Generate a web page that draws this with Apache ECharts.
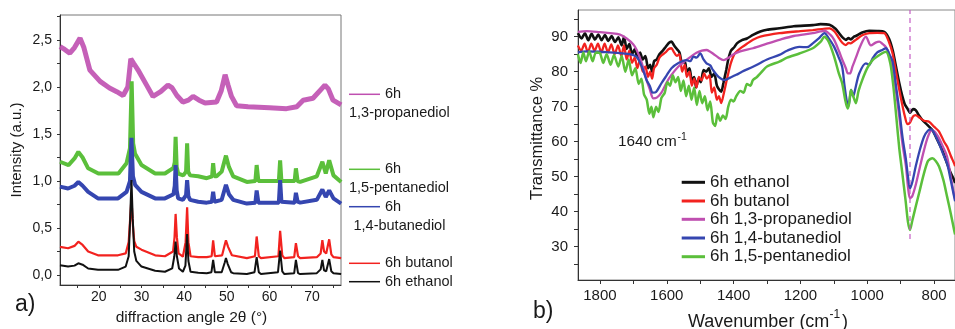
<!DOCTYPE html>
<html><head><meta charset="utf-8">
<script src="https://cdn.jsdelivr.net/npm/echarts@6/dist/echarts.min.js"></script>
<style>html,body{margin:0;padding:0;background:#fff}#c{width:955px;height:329px}</style>
</head><body><div id="c"></div>
<script>
// ---------- Panel a: XRD ----------
const xrdNames = ['6h ethanol','6h butanol','6h 1,3-propanediol','6h 1,4-butanediol','6h 1,5-pentanediol'];
const xrdTickLabels = [20,30,40,50,60,70];
const xrdYLabels = [0,0.5,1,1.5,2,2.5];
const xrdEthanol = [[10.9,0.105],[12.8,0.09],[14.3,0.1],[15.2,0.125],[16.2,0.11],[17.5,0.07],[19.8,0.055],[22,0.055],[24.5,0.055],[26.3,0.09],[27.0,0.2],[27.35,0.6],[27.65,1.01],[27.95,0.6],[28.3,0.25],[28.8,0.15],[30,0.09],[33.2,0.045],[35.5,0.035],[37.2,0.07],[37.7,0.2],[38.0,0.355],[38.3,0.2],[38.8,0.07],[39.7,0.035],[40.3,0.1],[40.7,0.435],[41.0,0.15],[41.5,0.035],[43.3,0.025],[45.3,0.02],[46.4,0.03],[46.8,0.16],[47.2,0.03],[48.8,0.03],[49.5,0.13],[49.8,0.18],[50.2,0.12],[51,0.03],[51.5,0.02],[54.7,0.01],[56.5,0.03],[57.0,0.19],[57.5,0.03],[58,0.01],[62.0,0.03],[62.5,0.26],[63.0,0.04],[63.5,0.01],[65.8,0.02],[66.2,0.16],[66.7,0.02],[67.2,0.01],[71.1,0.02],[72.0,0.06],[72.4,0.16],[72.8,0.05],[73.3,0.04],[74.0,0.17],[74.5,0.04],[75.0,0.02],[76.8,0.01]];
const xrdButanol = [[10.9,0.3],[12.8,0.285],[14.3,0.31],[15.2,0.355],[16.2,0.32],[17.5,0.25],[19.8,0.21],[24.5,0.21],[26.3,0.23],[27.0,0.35],[27.35,0.6],[27.65,0.82],[27.95,0.55],[28.3,0.36],[28.8,0.3],[30,0.27],[33.2,0.21],[35.5,0.2],[37.4,0.25],[37.75,0.4],[38.0,0.65],[38.3,0.4],[38.7,0.23],[39.7,0.195],[40.35,0.35],[40.7,0.72],[41.0,0.35],[41.5,0.2],[43.3,0.19],[45.3,0.19],[46.45,0.2],[46.8,0.37],[47.2,0.2],[48.9,0.21],[49.5,0.32],[49.8,0.37],[50.3,0.3],[51.2,0.21],[54.7,0.18],[56.6,0.2],[57.0,0.41],[57.5,0.2],[58,0.18],[62.1,0.2],[62.5,0.47],[63.0,0.21],[63.5,0.18],[65.8,0.19],[66.2,0.34],[66.7,0.2],[67.2,0.18],[71.1,0.19],[72.0,0.23],[72.4,0.37],[72.8,0.25],[73.3,0.23],[74.0,0.38],[74.5,0.22],[75.0,0.19],[76.8,0.18]];
const xrdPropanediol = [[10.9,2.43],[12,2.4],[13.2,2.36],[14.3,2.42],[15.6,2.52],[16.5,2.42],[17.9,2.18],[20.3,2.06],[22.5,1.99],[24.2,1.95],[25.7,1.91],[26.8,2.0],[27.5,2.3],[28.2,2.25],[29.2,2.18],[31.2,2.02],[32.7,1.9],[34.5,1.95],[36.2,2.02],[37.2,1.99],[38.3,1.91],[39.7,1.84],[41,1.86],[42.1,1.9],[43.5,1.86],[44.9,1.83],[47.6,1.84],[48.7,1.96],[49.6,2.13],[50.3,2.02],[51.1,1.9],[52.3,1.8],[55,1.79],[60,1.78],[64,1.77],[66.4,1.79],[67.9,1.86],[70.2,1.88],[72,1.97],[73.0,2.02],[73.8,1.98],[74.9,1.86],[76.8,1.81]];
const xrdButanediol = [[10.9,0.94],[12.8,0.92],[14.3,0.95],[15.2,0.99],[16.2,0.95],[17.5,0.885],[19.8,0.815],[24.5,0.815],[26.5,0.885],[27.3,1.0],[27.65,1.46],[28.0,1.05],[28.5,0.96],[30,0.885],[33.2,0.815],[35.5,0.815],[37.5,0.86],[37.8,0.95],[38.0,1.17],[38.25,0.9],[38.6,0.815],[39.7,0.8],[40.45,0.85],[40.7,1.01],[41.0,0.84],[41.4,0.8],[43.3,0.78],[45.3,0.77],[46.5,0.78],[46.8,0.885],[47.1,0.78],[48.8,0.8],[49.8,0.96],[50.5,0.86],[51.5,0.8],[54.7,0.76],[56.7,0.77],[57.0,0.9],[57.4,0.77],[57.8,0.76],[62.2,0.77],[62.5,1.01],[62.8,0.78],[63.2,0.76],[65.9,0.77],[66.2,0.875],[66.6,0.78],[67.2,0.77],[71.1,0.8],[72.4,0.91],[73.2,0.83],[74.0,0.9],[75.0,0.815],[76.8,0.76]];
const xrdPentanediol = [[10.9,1.205],[12.9,1.17],[14.3,1.24],[15.2,1.31],[16.2,1.25],[17.5,1.135],[19.9,1.08],[24.6,1.08],[26.5,1.19],[27.3,1.35],[27.7,2.06],[28.05,1.4],[28.5,1.29],[30.0,1.17],[33.2,1.08],[35.5,1.08],[37.5,1.14],[37.8,1.2],[38.0,1.47],[38.25,1.15],[38.6,1.08],[39.8,1.06],[40.45,1.1],[40.7,1.40],[40.95,1.1],[41.4,1.06],[43.3,1.05],[45.3,1.03],[46.55,1.05],[46.8,1.19],[47.1,1.05],[47.6,1.05],[48.8,1.1],[49.8,1.27],[50.5,1.15],[51.5,1.05],[54.7,0.99],[56.7,1.0],[57.0,1.17],[57.4,1.0],[57.8,0.99],[62.2,1.0],[62.5,1.22],[62.8,1.0],[63.2,0.99],[65.9,1.0],[66.2,1.135],[66.6,1.0],[67.2,0.99],[71.1,1.05],[72.4,1.205],[73.2,1.08],[74.0,1.22],[75.0,1.06],[76.8,0.99]];

// ---------- Panel b: FTIR ----------
const ftirTickLabels = [800,1000,1200,1400,1600,1800];
const ftirYLabels = [30,40,50,60,70,80,90];
const ftirEthanol = [[1866,91],[1855,89.5],[1845,91],[1835,89],[1825,90.8],[1815,89.2],[1805,90.6],[1795,89],[1785,90.5],[1775,88.8],[1765,90.2],[1755,88.5],[1745,89.8],[1735,87.5],[1728,90],[1720,86.5],[1712,88],[1704,85],[1696,86.5],[1688,84],[1680,85.5],[1672,83.5],[1664,84.5],[1656,81],[1650,82],[1644,80],[1638,83],[1630,83.5],[1622,85],[1614,85.8],[1604,87],[1594,88.2],[1586,88.6],[1578,87.5],[1570,86.5],[1562,85.5],[1554,82.5],[1546,83],[1540,80],[1532,81],[1525,77.5],[1518,78.5],[1512,75.5],[1505,78],[1498,77],[1490,80.5],[1482,80],[1474,81],[1466,78.5],[1458,79.5],[1450,76],[1444,75],[1437,74.3],[1430,77],[1422,80.5],[1416,83.5],[1408,86],[1398,87],[1390,88.1],[1375,89],[1360,89.5],[1342,90.5],[1320,91.5],[1300,92],[1263,92.4],[1220,93],[1163,93.3],[1140,93.6],[1113,93.4],[1095,92.3],[1084,91],[1074,89.8],[1064,89.1],[1056,89.6],[1049,89.2],[1040,90],[1034,90.2],[1015,91.2],[994,91.7],[970,91.6],[949,91.4],[935,89.5],[924,86.2],[914,81.5],[904,76.7],[895,73],[888,70.8],[880,69.5],[872,68.3],[863,69.3],[855,69],[845,67.5],[835,66.2],[820,64.8],[805,63.3],[790,60.5],[775,57.5],[765,54.8],[752,51.5],[740,49],[737,48.2]];
const ftirButanol = [[1866,87.5],[1856,86],[1846,88],[1836,85.5],[1826,88],[1816,86],[1806,88],[1796,85.5],[1786,88],[1776,85.5],[1766,87.8],[1756,85],[1746,87.5],[1736,84.5],[1728,87.5],[1720,83.5],[1712,86],[1704,82.5],[1696,84],[1688,81],[1680,83.5],[1672,80],[1664,81.5],[1656,78.5],[1650,80],[1644,78],[1638,81],[1630,82],[1622,84],[1614,84.8],[1604,85.5],[1594,86.5],[1586,86.7],[1578,85.5],[1570,84.5],[1562,85],[1554,80],[1546,82],[1540,78.5],[1532,80],[1525,76],[1518,78],[1511,75.5],[1504,78.5],[1496,77.5],[1488,79.5],[1480,78],[1472,79],[1465,74],[1458,75.5],[1450,72],[1444,73],[1437,71],[1430,73.5],[1422,77],[1416,79.5],[1408,82.5],[1398,85],[1392,85.7],[1375,87],[1360,88],[1342,89.1],[1320,90],[1263,91],[1200,91.6],[1163,91.9],[1113,92.4],[1098,91.5],[1084,89.5],[1074,88.2],[1064,87.6],[1056,88.2],[1049,88.1],[1040,88.7],[1034,89.1],[1015,90.4],[994,91],[970,91.1],[949,91],[935,88.5],[924,85.2],[914,80],[904,74.8],[895,70.5],[888,67.5],[880,65],[872,65.5],[863,67.2],[855,67.6],[845,67],[830,66],[815,65.7],[800,64.3],[785,62.9],[770,60],[761,58.6],[750,56],[740,53.8],[737,53]];
const ftirPropanediol = [[1866,91.4],[1840,91.6],[1800,91.3],[1770,91],[1740,90.6],[1720,89.5],[1700,87.8],[1690,86.2],[1675,82.5],[1660,77.5],[1651,75],[1640,72.4],[1630,72.6],[1616,74],[1600,77],[1586,79.1],[1565,81.5],[1541,83.4],[1525,84.5],[1511,85.4],[1495,86],[1481,86.2],[1470,85.7],[1462,85.2],[1445,84],[1430,83.3],[1415,84],[1400,85],[1380,85.8],[1342,86.7],[1300,88],[1263,89.1],[1220,90.2],[1163,91],[1140,91.5],[1128,91.7],[1110,90.5],[1099,89.1],[1085,86],[1075,83.5],[1064,81],[1058,79.5],[1052,79.5],[1044,81.5],[1034,84],[1020,87.5],[1004,90],[989,87.5],[975,88.3],[964,88.6],[955,88],[944,87],[934,85],[924,81.4],[914,74.5],[904,67.1],[894,59],[884,52.9],[878,47],[872,43.8],[865,44.5],[855,47.6],[843,52.5],[830,57.6],[818,61.5],[808,63.2],[800,63],[790,61.8],[785,61],[773,58.5],[761,55.7],[750,50],[740,44.8],[737,43.5]];
const ftirButanediol = [[1866,85.5],[1840,85.8],[1800,85.7],[1770,85.5],[1740,85.3],[1710,85],[1690,84.2],[1675,81.5],[1660,77.5],[1651,76],[1642,74],[1632,74.2],[1616,76.7],[1600,79],[1586,81],[1565,82.5],[1541,83.3],[1530,83],[1520,84.3],[1511,84],[1500,85.2],[1490,83.5],[1481,82.4],[1470,81.8],[1462,80.5],[1445,78.5],[1427,77.6],[1410,78.3],[1392,79.1],[1375,80],[1342,81.4],[1320,82.5],[1300,83.5],[1263,84.8],[1240,86],[1203,87.1],[1180,87],[1163,88.1],[1145,89.5],[1128,91],[1115,89.5],[1099,87.1],[1085,84],[1075,81.4],[1068,76],[1062,72],[1057,70],[1052,72.5],[1048,74.8],[1042,73],[1036,75],[1024,79.5],[1004,82.4],[994,82],[984,83.8],[970,85.5],[955,86.2],[944,86.7],[934,85],[924,82.9],[914,76],[904,69],[894,61],[884,54.8],[878,50],[872,46.7],[865,48.5],[855,52.9],[843,57.5],[830,61.4],[818,63.2],[808,63.5],[800,62.5],[785,59.5],[773,56.5],[761,53.8],[750,49],[740,44.3],[737,43]];
const ftirPentanediol = [[1866,85],[1858,82.5],[1850,85.5],[1842,83],[1832,85.8],[1822,83],[1812,85.5],[1800,85.3],[1790,82.5],[1780,85],[1768,82],[1758,84.8],[1745,81.5],[1735,84.5],[1724,80],[1714,83.5],[1704,79],[1694,81],[1684,76.5],[1676,78],[1668,73.5],[1660,72],[1652,68],[1646,70],[1640,67],[1632,70],[1625,68.5],[1616,72.5],[1606,74],[1598,77],[1590,76],[1582,79],[1574,77],[1566,78.5],[1558,74.5],[1550,77.5],[1542,73],[1534,76],[1526,72],[1518,75.5],[1510,70.5],[1502,74.5],[1494,71],[1486,73],[1478,69],[1470,71.5],[1462,65.5],[1455,64.5],[1448,68],[1440,66],[1432,67.5],[1424,66.5],[1416,70],[1408,72],[1400,71.5],[1392,73],[1380,74.5],[1370,74],[1360,76.5],[1350,76],[1342,77.6],[1330,78.5],[1320,79.5],[1300,81.5],[1263,82.9],[1240,84],[1203,85.2],[1163,86.7],[1140,88.5],[1128,90],[1115,88.5],[1099,84.3],[1085,79.5],[1075,76.7],[1066,72],[1059,69.5],[1054,71],[1049,74.8],[1042,73],[1034,71],[1026,74.5],[1015,77.6],[1000,81],[984,83.3],[960,85],[944,85.7],[931,82.4],[922,76],[913,67.1],[904,58],[895,51],[885,43],[878,37],[872,34.8],[865,37.5],[855,41.4],[843,46],[830,51],[818,54.5],[805,55.3],[795,54.5],[785,52.9],[772,49],[761,44.3],[750,39.5],[740,34.8],[737,33.5]];
const markerLine = [[872,32.2],[872,97.6]];
const peakLabel = '1640 cm';

const FONT = 'Liberation Sans, Arial, Helvetica, sans-serif';
const TXT = '#1a1a1a';
const C = {black:'#111111', red:'#f2221f', magenta:'#bf4fb0', blue:'#3546b0', green:'#5bbf3b'};

function range(a,b,s){const r=[];for(let v=a;v<=b+1e-9;v+=s)r.push(Math.round(v*1000)/1000);return r;}

const chart = echarts.init(document.getElementById('c'), null, {renderer:'canvas'});

function lineSeries(name, data, color, width, xi, yi, extra){
  return Object.assign({type:'line', name, data, xAxisIndex:xi, yAxisIndex:yi, showSymbol:false, symbol:'none',
    lineStyle:{color, width}, itemStyle:{color}, animation:false, silent:true}, extra||{});
}

const axisCommon = {axisLine:{show:true,onZero:false,lineStyle:{color:'#333',width:1}}, splitLine:{show:false}};

const option = {
  backgroundColor:'#fff',
  animation:false,
  grid:[
    {left:60, top:15, width:281, height:270, show:true, borderColor:'#777', borderWidth:1, backgroundColor:'transparent'},
    {left:578, top:10, width:378, height:270, show:true, borderColor:'#888', borderWidth:1, backgroundColor:'transparent'}
  ],
  xAxis:[
    Object.assign({type:'value', gridIndex:0, min:10.9, max:76.77,
      axisTick:{show:true, length:3, customValues:range(15,75,5), lineStyle:{color:'#333'}},
      axisLabel:{customValues:xrdTickLabels, margin:5, fontSize:14, fontFamily:FONT, color:TXT, formatter:v=>String(v)}}, axisCommon),
    Object.assign({type:'value', gridIndex:1, min:737.3, max:1865.7, inverse:true,
      axisTick:{show:true, length:4, customValues:range(800,1800,100), lineStyle:{color:'#333'}},
      axisLabel:{customValues:ftirTickLabels, margin:8, fontSize:15, fontFamily:FONT, color:TXT, formatter:v=>String(v)}}, axisCommon)
  ],
  yAxis:[
    Object.assign({type:'value', gridIndex:0, min:-0.106, max:2.766,
      axisTick:{show:true, length:3, customValues:range(0,2.75,0.25), lineStyle:{color:'#333'}},
      axisLabel:{customValues:xrdYLabels, margin:8, fontSize:14, fontFamily:FONT, color:TXT,
        formatter:v=>v.toFixed(1).replace('.',',')}}, axisCommon),
    Object.assign({type:'value', gridIndex:1, min:20.48, max:97.63,
      axisTick:{show:true, length:4, customValues:range(25,95,5), lineStyle:{color:'#333'}},
      axisLabel:{customValues:ftirYLabels, margin:10, fontSize:15, fontFamily:FONT, color:TXT, formatter:v=>String(v)}}, axisCommon)
  ],
  series:[
    lineSeries(xrdNames[2], xrdPropanediol, C.magenta, 5, 0, 0, {lineStyle:{color:C.magenta, width:5, opacity:0.9}}),
    lineSeries(xrdNames[4], xrdPentanediol, C.green, 4, 0, 0),
    lineSeries(xrdNames[3], xrdButanediol, C.blue, 4, 0, 0),
    lineSeries(xrdNames[1], xrdButanol, C.red, 2.2, 0, 0),
    lineSeries(xrdNames[0], xrdEthanol, C.black, 2, 0, 0),
    lineSeries('b '+xrdNames[0], ftirEthanol, C.black, 2.6, 1, 1, {smooth:0.25}),
    lineSeries('b '+xrdNames[1], ftirButanol, C.red, 2.3, 1, 1, {smooth:0.25}),
    lineSeries('b '+xrdNames[2], ftirPropanediol, C.magenta, 2.3, 1, 1, {smooth:0.3}),
    lineSeries('b '+xrdNames[3], ftirButanediol, C.blue, 2.3, 1, 1, {smooth:0.3}),
    lineSeries('b '+xrdNames[4], ftirPentanediol, C.green, 2.5, 1, 1, {smooth:0.25}),
    lineSeries('marker', markerLine, '#c45cc4', 1.2, 1, 1, {lineStyle:{color:'#c45cc4', width:1.2, type:[5,4]}})
  ],
  graphic:[]
};

const g = option.graphic;
function txt(text, x, y, size, opts){
  g.push(Object.assign({type:'text', x, y, silent:true, style:Object.assign({text, font:size+'px '+FONT, fill:TXT, textAlign:'left', textVerticalAlign:'middle'}, (opts&&opts.style)||{})}, (opts&&opts.el)||{}));
}
function seg(x1,x2,y,color,w){
  g.push({type:'line', silent:true, shape:{x1,y1:y,x2,y2:y}, style:{stroke:color, lineWidth:w}});
}
// Panel a texts
txt('Intensity (a.u.)', 17, 150, 15, {el:{rotation:Math.PI/2}, style:{textAlign:'center'}});
txt('diffraction angle 2θ (°)', 191.5, 318, 15.5, {style:{textAlign:'center'}});
txt('a)', 15, 305, 23);
// Panel a legend
seg(349,380,94.3,C.magenta,1.5); txt('6h',385,94.3,14.5); txt('1,3-propanediol',349,113.3,14.5);
seg(349,380,169.3,C.green,1.5); txt('6h',385,169.3,14.5); txt('1,5-pentanediol',349,188.3,14.5);
seg(349,380,206.7,C.blue,1.5); txt('6h',385,206.7,14.5); txt('1,4-butanediol',353.5,226,14.5);
seg(349,380,263.3,C.red,1.5); txt('6h butanol',385,263.3,14.5);
seg(349,380,281.7,C.black,1.5); txt('6h ethanol',385,281.7,14.5);
// Panel b texts
txt('Transmittance %', 537, 138.5, 16.5, {el:{rotation:Math.PI/2}, style:{textAlign:'center'}});
txt('Wavenumber (cm', 688, 321.7, 18);
txt('-1', 829.5, 315, 12);
txt(')', 842, 321.7, 18);
txt('b)', 533, 312, 23);
txt(peakLabel, 618, 142, 15.3);
txt('-1', 677.5, 137, 10.5);
// Panel b legend
const bl = [[xrdNames[0],C.black],[xrdNames[1],C.red],[xrdNames[2],C.magenta],[xrdNames[3],C.blue],[xrdNames[4],C.green]];
const by = [182.3,201,219.3,238,256.7];
bl.forEach((it,i)=>{ seg(681.7,705,by[i],it[1],3); txt(it[0],710,by[i],17); });

chart.setOption(option);
</script>
</body></html>
